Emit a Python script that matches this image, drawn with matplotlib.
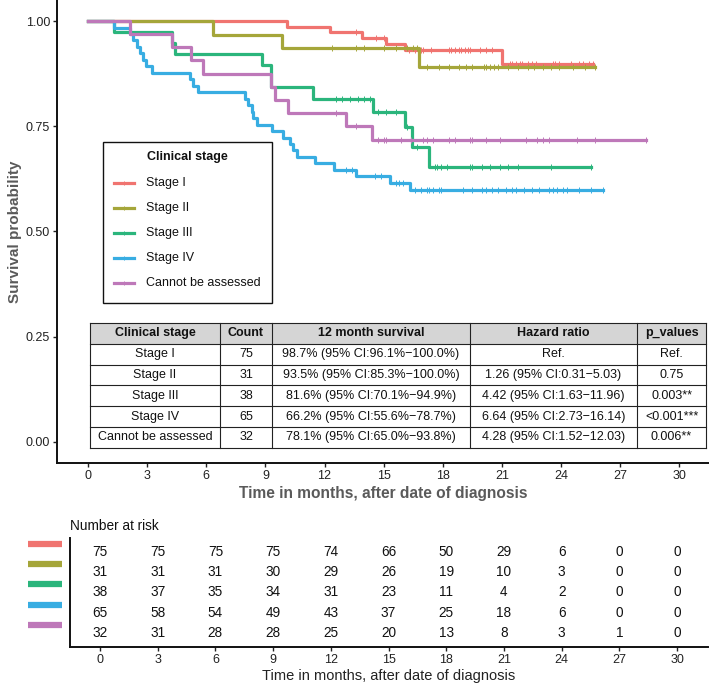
import numpy as np
import matplotlib
matplotlib.use('Agg')
import matplotlib.pyplot as plt
from matplotlib.patches import Rectangle
from matplotlib.transforms import blended_transform_factory

plt.rcParams['font.family'] = ['Liberation Sans', 'DejaVu Sans']

# ---------------- data ----------------
groups = ['Stage I', 'Stage II', 'Stage III', 'Stage IV', 'Cannot be assessed']
colors = ['#F07470', '#A5A63A', '#2BB57C', '#38ADE2', '#BE78B9']

stage1_times = [10.1, 12.3, 13.9, 15.1, 16.1, 21.0]
stage1_surv = [0.9867, 0.9733, 0.960, 0.9465, 0.931, 0.899]
stage1_end = 25.6
stage1_censor = [13.6, 14.6, 15.0, 16.3, 16.6, 16.9, 17.0, 17.4, 18.3, 18.4, 18.6, 18.8,
                 18.9, 19.1, 19.3, 19.4, 19.9, 20.2, 20.5, 21.4, 21.5, 21.7, 21.9, 22.0,
                 22.3, 22.5, 22.7, 23.6, 23.7, 23.9, 24.5, 24.9, 25.1, 25.4, 25.6]

stage2_times = [6.35, 9.86, 16.8]
stage2_surv = [0.9677, 0.9355, 0.891]
stage2_end = 25.7
stage2_censor = [12.4, 13.6, 14.0, 15.0, 15.6, 16.2, 16.5, 16.7, 17.2, 17.8, 18.3, 18.8,
                 19.2, 19.5, 20.1, 20.2, 20.4, 20.6, 20.8, 21.3, 21.8, 22.3, 22.6, 23.1,
                 23.5, 23.9, 24.6, 25.2, 25.7]

stage3_times = [1.33, 4.24, 4.4, 8.85, 9.3, 11.4, 14.46, 16.07, 16.45, 17.3]
stage3_surv = [0.9737, 0.9474, 0.9211, 0.8947, 0.8421, 0.8158, 0.784, 0.747, 0.701, 0.654]
stage3_end = 25.5
stage3_censor = [12.6, 12.9, 13.3, 13.7, 14.0, 14.3, 14.7, 15.1, 15.6, 16.2, 16.7, 17.6,
                 17.7, 17.9, 18.2, 19.4, 19.5, 20.0, 20.4, 20.9, 21.3, 21.8, 23.5, 25.5]

stage4_times = [1.33, 2.13, 2.3, 2.47, 2.63, 2.8, 2.95, 3.25, 5.17, 5.34, 5.6, 7.96,
                8.13, 8.3, 8.38, 8.55, 9.31, 9.9, 10.24, 10.4, 10.58, 11.5,
                12.5, 13.6, 15.3, 16.35]
stage4_surv = [0.9846, 0.9692, 0.9538, 0.9385, 0.9231, 0.9077, 0.8923, 0.8769, 0.8615,
               0.8462, 0.8308, 0.8154, 0.80, 0.7846, 0.7692, 0.7538, 0.7385, 0.7231,
               0.7077, 0.6923, 0.6769, 0.6615, 0.6466, 0.631, 0.614, 0.598]
stage4_end = 26.1
stage4_censor = [13.1, 13.4, 14.55, 14.88, 15.6, 15.8, 16.0, 16.6, 16.9, 17.2, 17.3, 17.5,
                 17.8, 17.9, 19.0, 19.5, 20.0, 20.2, 20.5, 20.8, 21.2, 21.5, 21.7, 22.1,
                 22.5, 22.9, 23.4, 23.6, 23.8, 24.1, 24.3, 24.9, 25.5, 26.1]

stage5_times = [2.13, 4.24, 5.25, 5.85, 9.3, 9.5, 10.15, 13.1, 14.4]
stage5_surv = [0.96875, 0.9375, 0.90625, 0.875, 0.84375, 0.8125, 0.78125, 0.75, 0.716]
stage5_end = 28.3
stage5_censor = [12.6, 13.6, 14.7, 15.0, 15.1, 15.9, 16.4, 17.0, 17.2, 17.5, 18.3, 18.6,
                 19.4, 19.5, 20.2, 20.9, 22.2, 22.8, 23.1, 23.4, 24.8, 25.7, 28.3]

all_times = [stage1_times, stage2_times, stage3_times, stage4_times, stage5_times]
all_surv = [stage1_surv, stage2_surv, stage3_surv, stage4_surv, stage5_surv]
all_end = [stage1_end, stage2_end, stage3_end, stage4_end, stage5_end]
all_censor = [stage1_censor, stage2_censor, stage3_censor, stage4_censor, stage5_censor]

risk_times = [0, 3, 6, 9, 12, 15, 18, 21, 24, 27, 30]
risk_stage1 = [75, 75, 75, 75, 74, 66, 50, 29, 6, 0, 0]
risk_stage2 = [31, 31, 31, 30, 29, 26, 19, 10, 3, 0, 0]
risk_stage3 = [38, 37, 35, 34, 31, 23, 11, 4, 2, 0, 0]
risk_stage4 = [65, 58, 54, 49, 43, 37, 25, 18, 6, 0, 0]
risk_stage5 = [32, 31, 28, 28, 25, 20, 13, 8, 3, 1, 0]
all_risk = [risk_stage1, risk_stage2, risk_stage3, risk_stage4, risk_stage5]

table_header = ['Clinical stage', 'Count', '12 month survival', 'Hazard ratio', 'p_values']
table_count = ['75', '31', '38', '65', '32']
table_surv12 = ['98.7% (95% CI:96.1%\u2212100.0%)', '93.5% (95% CI:85.3%\u2212100.0%)',
                '81.6% (95% CI:70.1%\u221294.9%)', '66.2% (95% CI:55.6%\u221278.7%)',
                '78.1% (95% CI:65.0%\u221293.8%)']
table_hr = ['Ref.', '1.26 (95% CI:0.31\u22125.03)', '4.42 (95% CI:1.63\u221211.96)',
            '6.64 (95% CI:2.73\u221216.14)', '4.28 (95% CI:1.52\u221212.03)']
table_p = ['Ref.', '0.75', '0.003**', '<0.001***', '0.006**']

# ---------------- figure ----------------
W, H = 709, 683
fig = plt.figure(figsize=(W / 100, H / 100), dpi=100)


def fbox(l, t, r, b):
    return [l / W, 1 - b / H, (r - l) / W, (b - t) / H]


ax = fig.add_axes(fbox(57, 0, 709, 462.7))
ax.set_xlim(-1.57, 31.5)
ax.set_ylim(-0.05, 1.05)

for i in range(5):
    t = np.array(all_times[i], dtype=float)
    s = np.array(all_surv[i], dtype=float)
    xs = np.r_[0, t, all_end[i]]
    ys = np.r_[1, s, s[-1]]
    ax.step(xs, ys, where='post', color=colors[i], lw=2.3, zorder=2 + i)
    c = np.array(all_censor[i], dtype=float)
    cy = np.r_[1, s][np.searchsorted(t, c, side='right')]
    ax.plot(c, cy, ls='none', marker='|', ms=3.8, mew=0.7, color=colors[i], zorder=2 + i)

ax.set_xticks(risk_times)
ax.set_yticks([0, 0.25, 0.5, 0.75, 1.0])
ax.set_yticklabels(['0.00', '0.25', '0.50', '0.75', '1.00'])
ax.tick_params(labelsize=9, length=3, width=1, colors='#222222', pad=2)
for sp in ['top', 'right']:
    ax.spines[sp].set_visible(False)
for sp in ['left', 'bottom']:
    ax.spines[sp].set_linewidth(1.4)
    ax.spines[sp].set_color('#111111')
ax.set_ylabel('Survival probability', fontsize=11, fontweight='bold', color='#5a5a5a', labelpad=3)
ax.set_xlabel('Time in months, after date of diagnosis', fontsize=11.2, fontweight='bold',
              color='#5a5a5a', labelpad=3)

# ---------------- risk table ----------------
axr = fig.add_axes(fbox(70, 538, 708, 647))
axr.set_xlim(-1.56, 31.61)
axr.set_ylim(0.31, 5.69)
tr = blended_transform_factory(axr.transAxes, axr.transData)
for i in range(5):
    yv = 5 - i
    for tx, n in zip(risk_times, all_risk[i]):
        axr.text(tx, yv, str(n), ha='center', va='center', fontsize=9.8, color='#111111')
    axr.plot([-0.066, -0.013], [yv + 0.4, yv + 0.4], transform=tr, color=colors[i],
             lw=4.5, solid_capstyle='butt', clip_on=False)
axr.set_yticks([])
axr.set_xticks(risk_times)
axr.tick_params(labelsize=9, length=3, width=1, colors='#222222', pad=2)
for sp in ['top', 'right']:
    axr.spines[sp].set_visible(False)
for sp in ['left', 'bottom']:
    axr.spines[sp].set_linewidth(1.4)
    axr.spines[sp].set_color('#111111')
axr.set_xlabel('Time in months, after date of diagnosis', fontsize=10.5, color='#222222', labelpad=2)
fig.text(70 / W, 1 - 526 / H, 'Number at risk', fontsize=9.8, va='center', ha='left', color='#111111')

# ---------------- overlay: legend + table ----------------
ov = fig.add_axes([0, 0, 1, 1], zorder=10)
ov.set_xlim(0, W)
ov.set_ylim(H, 0)
ov.axis('off')
ov.patch.set_alpha(0)

# legend
ov.add_patch(Rectangle((103, 142), 169, 161, fill=True, facecolor='white', edgecolor='#111111', lw=1.0))
ov.text(187, 157, 'Clinical stage', ha='center', va='center', fontsize=9, fontweight='bold', color='#111111')
for i, g in enumerate(groups):
    yy = 183 + 25 * i
    ov.plot([114, 134], [yy, yy], color=colors[i], lw=2.3)
    ov.plot([124], [yy], marker='|', ms=3.5, mew=0.7, color=colors[i])
    ov.text(146, yy, g, ha='left', va='center', fontsize=9, color='#111111')

# table
col_x = [90, 220, 272, 470, 637, 706]
row_y = [323 + 20.8 * k for k in range(7)]
ov.add_patch(Rectangle((col_x[0], row_y[0]), col_x[-1] - col_x[0], row_y[1] - row_y[0],
                       facecolor='#D5D5D5', edgecolor='none'))
ov.add_patch(Rectangle((col_x[0], row_y[1]), col_x[-1] - col_x[0], row_y[-1] - row_y[1],
                       facecolor='white', edgecolor='none'))
for xv in col_x:
    ov.plot([xv, xv], [row_y[0], row_y[-1]], color='#222222', lw=0.8)
for yv in row_y:
    ov.plot([col_x[0], col_x[-1]], [yv, yv], color='#222222', lw=0.8)
cols = [groups, table_count, table_surv12, table_hr, table_p]
for j, h in enumerate(table_header):
    cx = (col_x[j] + col_x[j + 1]) / 2
    ov.text(cx, (row_y[0] + row_y[1]) / 2, h, ha='center', va='center', fontsize=9,
            fontweight='bold', color='#111111')
    for k in range(5):
        ov.text(cx, (row_y[k + 1] + row_y[k + 2]) / 2, cols[j][k], ha='center', va='center',
                fontsize=9, color='#111111')

fig.savefig('out.png', dpi=100)
